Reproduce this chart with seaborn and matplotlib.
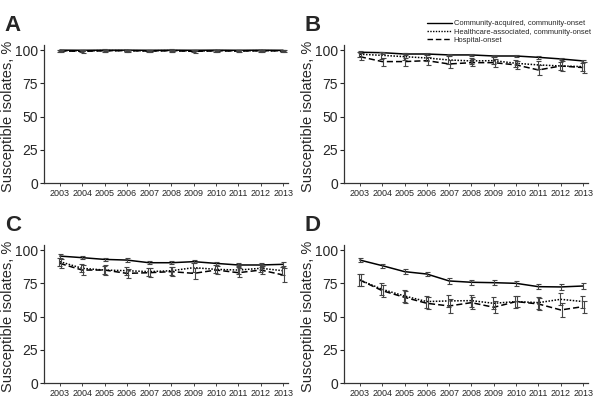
import numpy as np
import pandas as pd
import matplotlib
matplotlib.use("Agg")
import matplotlib.pyplot as plt
import seaborn as sns

sns.set_style("ticks")
plt.rcParams['font.family'] = ['Liberation Sans', 'DejaVu Sans']

years = list(range(2003, 2014))
groups = ["Community-acquired, community-onset",
          "Healthcare-associated, community-onset",
          "Hospital-onset"]

# panel A
a_ca = [99.9, 99.8, 99.9, 99.9, 99.8, 99.9, 99.8, 99.9, 99.8, 99.9, 99.8]
a_hca = [99.5, 99.3, 99.6, 99.5, 99.4, 99.6, 99.2, 99.5, 99.4, 99.5, 99.4]
a_ho = [99.3, 99.0, 99.4, 99.5, 99.2, 99.4, 99.0, 99.3, 99.2, 99.4, 99.3]
a_ca_err = [0.3, 0.3, 0.3, 0.3, 0.3, 0.3, 0.3, 0.3, 0.3, 0.3, 0.3]
a_hca_err = [0.8, 1.0, 0.8, 0.8, 0.9, 0.8, 1.0, 0.8, 0.9, 0.8, 0.9]
a_ho_err = [0.9, 1.2, 0.9, 0.8, 1.0, 0.9, 1.1, 0.9, 1.0, 0.9, 0.9]

# panel B
b_ca = [98.3, 98.0, 97.0, 97.0, 96.3, 96.3, 95.5, 95.5, 94.5, 93.3, 91.8]
b_hca = [96.8, 96.0, 95.0, 94.0, 92.5, 91.8, 92.0, 90.0, 88.8, 88.0, 87.5]
b_ho = [95.0, 91.3, 91.3, 92.0, 89.5, 90.5, 90.5, 88.8, 85.0, 88.0, 86.8]
b_ca_err = [0.8, 0.8, 0.8, 0.8, 0.8, 0.8, 0.8, 0.8, 0.9, 0.9, 1.0]
b_hca_err = [2.0, 2.5, 2.5, 2.5, 3.0, 2.5, 2.5, 2.5, 3.0, 2.8, 3.0]
b_ho_err = [2.5, 3.0, 3.0, 3.0, 3.0, 2.5, 3.0, 3.0, 4.0, 3.5, 4.0]

# panel C
c_ca = [95.5, 94.3, 93.0, 92.5, 90.5, 90.5, 91.3, 90.0, 88.8, 88.8, 89.3]
c_hca = [91.3, 86.3, 85.0, 84.5, 83.8, 84.5, 86.8, 85.5, 85.0, 86.3, 84.5]
c_ho = [90.0, 85.0, 85.0, 82.5, 83.0, 83.8, 82.5, 85.0, 83.0, 85.0, 81.3]
c_ca_err = [1.2, 1.2, 1.2, 1.2, 1.2, 1.2, 1.2, 1.2, 1.2, 1.2, 1.5]
c_hca_err = [3.0, 3.0, 3.0, 3.0, 3.0, 3.0, 3.5, 3.0, 3.0, 3.0, 3.0]
c_ho_err = [3.5, 3.5, 3.5, 3.5, 3.5, 3.5, 4.0, 3.0, 3.5, 3.0, 5.0]

# panel D
d_ca = [92.5, 88.3, 83.8, 82.0, 76.8, 75.8, 75.5, 75.0, 72.5, 72.3, 73.0]
d_hca = [77.5, 70.5, 65.5, 61.3, 61.8, 62.0, 60.0, 61.3, 60.5, 63.0, 61.3]
d_ho = [77.5, 69.5, 64.5, 60.0, 58.0, 60.5, 57.0, 61.3, 59.5, 55.0, 57.5]
d_ca_err = [1.5, 1.5, 1.8, 1.8, 2.0, 2.0, 2.0, 2.0, 2.0, 2.0, 2.0]
d_hca_err = [4.5, 4.5, 4.5, 4.5, 4.5, 4.5, 4.5, 4.5, 4.5, 4.5, 4.5]
d_ho_err = [4.5, 4.5, 4.5, 4.5, 5.0, 4.5, 4.5, 4.0, 4.5, 5.0, 4.5]

panels = {
    "A": ([a_ca, a_hca, a_ho], [a_ca_err, a_hca_err, a_ho_err]),
    "B": ([b_ca, b_hca, b_ho], [b_ca_err, b_hca_err, b_ho_err]),
    "C": ([c_ca, c_hca, c_ho], [c_ca_err, c_hca_err, c_ho_err]),
    "D": ([d_ca, d_hca, d_ho], [d_ca_err, d_hca_err, d_ho_err]),
}

dashes = {groups[0]: "", groups[1]: (1, 1), groups[2]: (4, 2)}
offsets = [0.0, -0.04, 0.04]

positions = {"A": (0.073, 0.548), "B": (0.573, 0.548),
             "C": (0.073, 0.054), "D": (0.573, 0.054)}

fig = plt.figure(figsize=(6, 4.05), dpi=100)

for name, (vals, errs) in panels.items():
    x0, y0 = positions[name]
    ax = fig.add_axes([x0, y0, 0.407, 0.341])
    rows = []
    for g, v in zip(groups, vals):
        for yr, val in zip(years, v):
            rows.append({"year": yr, "pct": val, "group": g})
    df = pd.DataFrame(rows)
    sns.lineplot(data=df, x="year", y="pct", style="group", dashes=dashes,
                 color="black", linewidth=1.1, ax=ax, legend=(name == "B"))
    for i, (v, e) in enumerate(zip(vals, errs)):
        ax.errorbar(np.array(years) + offsets[i], v, yerr=e, fmt="none",
                    ecolor="#444444", elinewidth=0.8, capsize=1.8, capthick=0.8)
    ax.set_xlim(2002.28, 2013.22)
    ax.set_ylim(0, 103.8)
    ax.set_xticks(years)
    ax.set_xticklabels([str(y) for y in years], fontsize=6.5)
    ax.set_yticks([0, 25, 50, 75, 100])
    ax.tick_params(axis="y", labelsize=10, length=3, width=0.8, pad=1)
    ax.tick_params(axis="x", length=2, width=0.6, pad=2)
    ax.set_xlabel("")
    ax.set_ylabel("Susceptible isolates, %", fontsize=10.5)
    ax.yaxis.set_label_coords(-0.117, 0.48)
    for s in ["left", "bottom"]:
        ax.spines[s].set_linewidth(0.9)
        ax.spines[s].set_color("#333333")
    sns.despine(ax=ax)
    ax.text(-0.16, 1.22, name, transform=ax.transAxes, fontsize=16,
            fontweight="bold", va="top", ha="left")
    if name == "B":
        leg = ax.legend(loc="upper left", bbox_to_anchor=(0.34, 1.18),
                        frameon=False, fontsize=5.4, handlelength=3.3,
                        labelspacing=0.15, borderaxespad=0, borderpad=0,
                        handletextpad=0.3)
        for line in leg.get_lines():
            line.set_linewidth(1.0)

fig.savefig("out.png", dpi=100)
